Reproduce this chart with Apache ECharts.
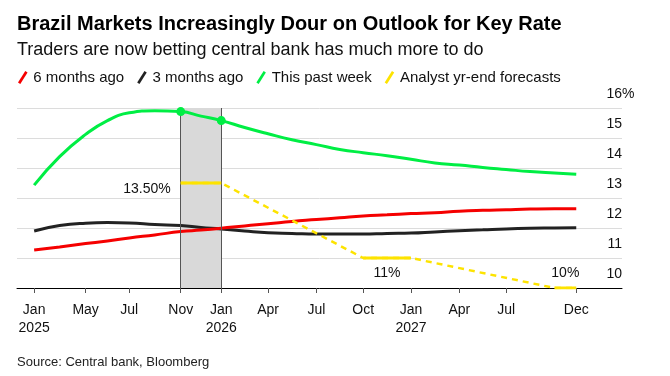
<!DOCTYPE html>
<html>
<head>
<meta charset="utf-8">
<script src="https://cdn.jsdelivr.net/npm/echarts@6/dist/echarts.min.js"></script>
<style>
html,body{margin:0;padding:0;background:#fff;}
#chart{width:670px;height:376px;}
</style>
</head>
<body>
<div id="chart"></div>
<script>
// ---- Data ----
const dates = ['2025-01-29','2025-03-19','2025-05-08','2025-06-19','2025-07-31','2025-09-18','2025-11-07','2025-12-16',
               '2026-01-24','2026-03-10','2026-04-24','2026-06-09','2026-07-26','2026-09-09','2026-10-24','2026-12-09',
               '2027-01-24','2027-03-11','2027-04-27','2027-06-11','2027-07-26','2027-09-10','2027-10-27','2027-12-08'];
const sixMonthsAgo   = [11.27,11.37,11.48,11.57,11.67,11.77,11.88,11.93,11.99,12.07,12.14,12.22,12.28,12.34,12.40,12.44,12.48,12.51,12.56,12.59,12.61,12.63,12.64,12.64];
const threeMonthsAgo = [11.90,12.08,12.16,12.18,12.17,12.12,12.08,12.02,11.97,11.90,11.84,11.82,11.80,11.80,11.80,11.82,11.83,11.87,11.91,11.94,11.97,11.99,12.00,12.01];
const thisPastWeek   = [13.43,14.38,15.12,15.58,15.84,15.91,15.88,15.73,15.58,15.35,15.14,14.94,14.78,14.62,14.51,14.41,14.29,14.17,14.10,14.02,13.95,13.88,13.83,13.79];
const markedDates = ['2025-11-07','2026-01-24'];

const fcStart  = ['2025-11-07','2026-10-24','2027-10-27'];
const fcEnd    = ['2026-01-24','2027-01-24','2027-12-08'];
const fcValue  = [13.5, 11, 10];
const fcLabels = ['13.50%','11%','10%'];

const shadeStart = '2025-11-07';
const shadeEnd   = '2026-01-24';

const tickDates  = ['2025-01-29','2025-05-08','2025-07-31','2025-11-07','2026-01-24','2026-04-24','2026-07-26','2026-10-24','2027-01-24','2027-04-27','2027-07-26','2027-12-08'];
const tickLabels = ['Jan\n2025','May','Jul','Nov','Jan\n2026','Apr','Jul','Oct','Jan\n2027','Apr','Jul','Dec'];
const xMin = '2024-12-27', xMax = '2028-03-05';
const yMin = 10, yMax = 16, yStep = 1;

const seriesNames = ['6 months ago','3 months ago','This past week','Analyst yr-end forecasts'];

// ---- Build ----
// x positions: days since 2025-01-01
const t = s => { const p = s.split('-').map(Number); return Math.round((Date.UTC(p[0], p[1]-1, p[2]) - Date.UTC(2025,0,1)) / 86400000); };
const FONT = '"Liberation Sans", Arial, sans-serif';
const RED = '#f50000', BLACK = '#222222', GREEN = '#00ee44', YELLOW = '#fde300';

const pairs = vals => dates.map((d,i) => [t(d), vals[i]]);
const greenData = dates.map((d,i) => markedDates.includes(d)
  ? {value:[t(d), thisPastWeek[i]], symbol:'circle', symbolSize:9}
  : {value:[t(d), thisPastWeek[i]], symbol:'none'});

const solidFc = [];
fcStart.forEach((s,i) => {
  solidFc.push([t(s), fcValue[i]]);
  solidFc.push([t(fcEnd[i]), fcValue[i]]);
  if (i < fcStart.length-1) solidFc.push([t(fcEnd[i])+0.5, '-']);
});
const dashedFc = [];
fcStart.forEach((s,i) => { dashedFc.push([t(s), fcValue[i]]); dashedFc.push([t(fcEnd[i]), fcValue[i]]); });

const labelMap = {};
tickDates.forEach((d,i) => labelMap[t(d)] = tickLabels[i]);
const tickVals = tickDates.map(t);

const fcMarks = fcStart.map((s,i) => {
  if (i === 0) return {coord:[t(s), fcValue[i]], value: fcLabels[i],
      label:{position:'left', distance:10, offset:[0,6]}};
  const mid = (t(s)+t(fcEnd[i]))/2;
  return {coord:[mid, fcValue[i]], value: fcLabels[i],
      label:{position: i===1 ? 'bottom' : 'top', distance: 8}};
});

const chart = echarts.init(document.getElementById('chart'), null, {renderer:'canvas'});
const legendIcon = 'path://M0,12 L7.6,0 L10,1.6 L2.4,13.6 Z';

chart.setOption({
  animation:false,
  backgroundColor:'#fff',
  textStyle:{fontFamily:FONT},
  title:[
    {text:'Brazil Markets Increasingly Dour on Outlook for Key Rate', left:17, top:14, padding:0,
     textStyle:{fontFamily:FONT, fontSize:20, fontWeight:'bold', color:'#000'}},
    {text:'Traders are now betting central bank has much more to do', left:17, top:41, padding:0,
     textStyle:{fontFamily:FONT, fontSize:18, fontWeight:'normal', color:'#111'}},
    {text:'Source: Central bank, Bloomberg', left:17, top:356, padding:0,
     textStyle:{fontFamily:FONT, fontSize:13, fontWeight:'normal', color:'#222'}}
  ],
  legend:{
    left:18, top:70, padding:0, itemWidth:11, itemHeight:13, itemGap:13,
    icon: legendIcon,
    data: seriesNames,
    textStyle:{fontFamily:FONT, fontSize:15, color:'#111'},
    selectedMode:false
  },
  grid:{left:17, right:48, top:108, bottom:88},
  xAxis:{
    type:'value', min:t(xMin), max:t(xMax),
    axisLine:{show:true, onZero:false, lineStyle:{color:'#000', width:1}},
    axisTick:{show:true, customValues: tickVals, length:5, lineStyle:{color:'#555'}},
    axisLabel:{customValues: tickVals, formatter: v => labelMap[Math.round(v)] || '', fontFamily:FONT, fontSize:14,
               lineHeight:18, color:'#111', margin:13, hideOverlap:false},
    splitLine:{show:false}
  },
  yAxis:{
    type:'value', position:'right', min:yMin, max:yMax, interval:yStep,
    axisLine:{show:false, onZero:false}, axisTick:{show:false},
    splitLine:{show:true, lineStyle:{color:'#dcdcdc', width:1}},
    axisLabel:{inside:false, margin:12.45, align:'right', verticalAlign:'bottom', padding:[0,0,6,0],
               fontFamily:FONT, fontSize:14, lineHeight:16, color:'#111',
               formatter: v => v === yMax ? v + '%' : v + '{h|%}',
               rich:{h:{fontFamily:FONT, fontSize:14, lineHeight:16, color:'rgba(0,0,0,0)'}}}
  },
  series:[
    {type:'line', name:'shade', data:[], z:1, silent:true,
     markArea:{silent:true, itemStyle:{color:'#d9d9d9', opacity:1},
               data:[[{xAxis:t(shadeStart)},{xAxis:t(shadeEnd)}]]},
     markLine:{silent:true, symbol:['none','none'], label:{show:false},
               lineStyle:{color:'#555', width:1, type:'solid'},
               data:[{xAxis:t(shadeStart)},{xAxis:t(shadeEnd)}]}},
    {type:'line', name:seriesNames[1], data:pairs(threeMonthsAgo), smooth:true, symbol:'none', z:3,
     lineStyle:{color:BLACK, width:3}, itemStyle:{color:BLACK}},
    {type:'line', name:seriesNames[0], data:pairs(sixMonthsAgo), smooth:true, symbol:'none', z:4,
     lineStyle:{color:RED, width:3}, itemStyle:{color:RED}},
    {type:'line', name:seriesNames[2], data:greenData, smooth:true, showSymbol:true, z:5,
     lineStyle:{color:GREEN, width:3}, itemStyle:{color:GREEN}},
    {type:'line', name:'dashed', data:dashedFc, symbol:'none', z:6,
     lineStyle:{color:YELLOW, width:2.5, type:[6,5]}, itemStyle:{color:YELLOW}},
    {type:'line', name:seriesNames[3], data:solidFc, symbol:'none', z:7, connectNulls:false,
     lineStyle:{color:YELLOW, width:3}, itemStyle:{color:YELLOW},
     markPoint:{symbol:'circle', symbolSize:0, silent:true,
       label:{show:true, formatter: p => p.value, fontFamily:FONT, fontSize:14, color:'#111'},
       data: fcMarks}}
  ]
});
</script>
</body>
</html>
